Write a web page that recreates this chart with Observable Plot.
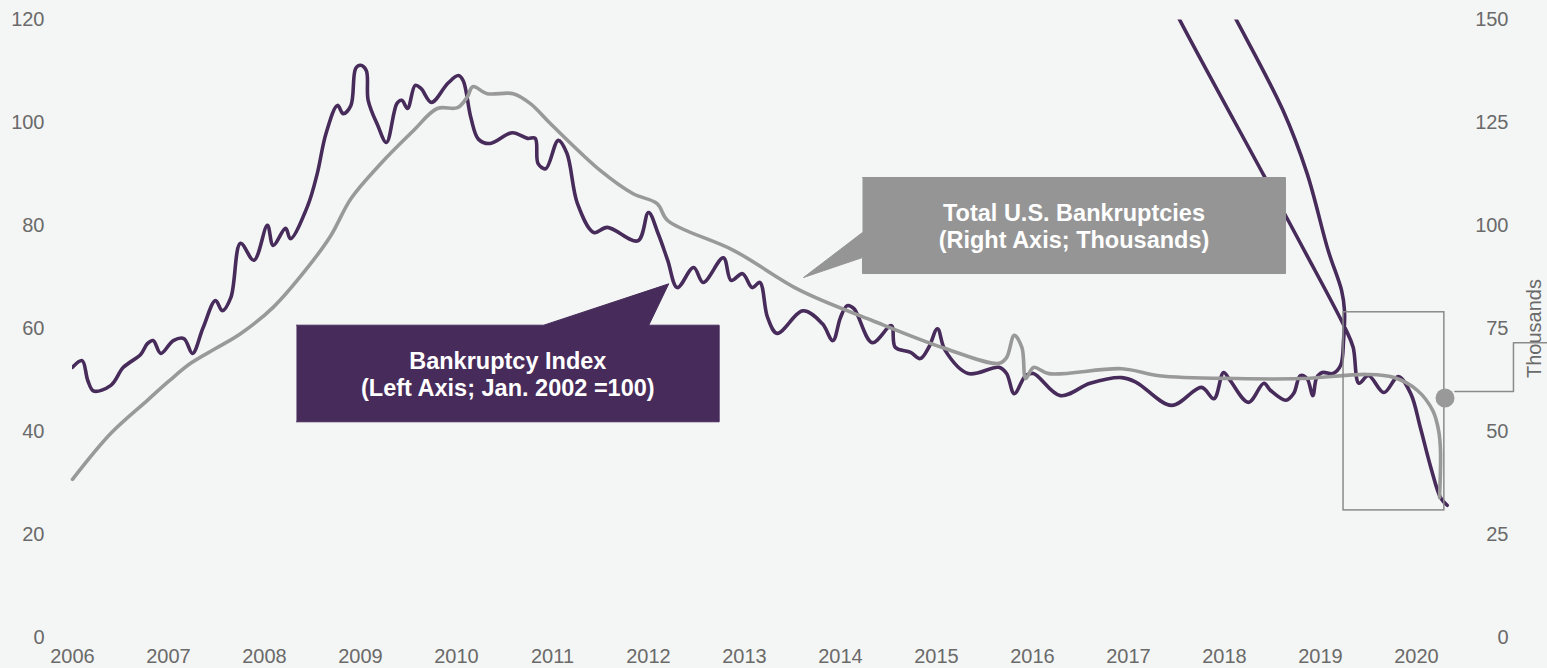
<!DOCTYPE html>
<html><head><meta charset="utf-8">
<script src="https://cdn.jsdelivr.net/npm/d3@7"></script>
<script src="https://cdn.jsdelivr.net/npm/@observablehq/plot@0.6"></script>
<style>
html,body{margin:0;padding:0;background:#f4f6f5;}
#chart{width:1547px;height:668px;overflow:hidden;}
</style></head><body><div id="chart"></div>
<script>
// ---- axis tick labels ----
const years = [2006,2007,2008,2009,2010,2011,2012,2013,2014,2015,2016,2017,2018,2019,2020];
const leftTicks = [0,20,40,60,80,100,120];
const rightTicks = [0,25,50,75,100,125,150];

// ---- Bankruptcy Index (left axis, Jan. 2002 = 100) ----
const indexDates = [2006.00,2006.10,2006.16,2006.22,2006.40,2006.53,2006.71,2006.78,2006.84,2006.92,
 2007.05,2007.16,2007.25,2007.36,2007.49,2007.56,2007.65,2007.75,2007.89,2008.03,
 2008.09,2008.22,2008.27,2008.45,2008.55,2008.64,2008.76,2008.82,2008.90,2008.95,
 2009.00,2009.06,2009.08,2009.18,2009.27,2009.38,2009.43,2009.49,2009.57,2009.63,
 2009.74,2009.91,2010.02,2010.07,2010.15,2010.23,2010.35,2010.58,2010.74,2010.82,
 2010.85,2010.93,2011.06,2011.15,2011.26,2011.43,2011.57,2011.89,2012.00,2012.10,
 2012.20,2012.30,2012.47,2012.57,2012.78,2012.86,2012.98,2013.08,2013.16,2013.24,
 2013.34,2013.61,2013.81,2013.92,2014.00,2014.07,2014.14,2014.33,2014.53,2014.57,
 2014.73,2014.83,2014.92,2015.01,2015.09,2015.33,2015.65,2015.73,2015.81,2015.93,
 2016.01,2016.29,2016.60,2016.93,2017.08,2017.45,2017.76,2017.89,2017.99,2018.06,
 2018.25,2018.41,2018.48,2018.64,2018.72,2018.79,2018.86,2018.92,2018.96,2019.02,
 2019.13,2019.21,
 2019.24,2019.25,2019.22,2019.08,2018.86,2018.61,2018.11,2017.85,
 2017.28,2017.52,2018.41,2018.82,2019.26,2019.34,
 2019.40,2019.50,2019.66,2019.81,2019.94,2020.04,2020.15,2020.25,2020.32];
const indexValues = [52.5,53.8,49.9,47.9,49.0,52.5,55.0,57.1,57.7,55.2,
 57.7,58.1,55.2,60.2,65.5,63.5,66.1,76.6,73.3,80.1,
 76.2,79.5,77.5,83.9,90.2,97.9,103.4,101.8,103.4,110.6,
 111.2,110.2,104.4,99.5,96.2,103.8,104.4,102.8,107.3,106.7,
 104.0,107.7,109.2,108.2,101.0,96.8,96.0,98.1,97.0,97.0,
 92.1,91.1,96.6,94.1,84.3,78.7,79.7,77.1,82.6,78.5,
 73.3,68.0,71.9,69.0,73.8,69.4,70.7,68.0,69.0,62.2,
 59.1,63.5,61.0,57.7,62.2,64.5,63.9,57.3,60.6,56.4,
 55.4,54.2,56.4,60.0,55.8,51.3,52.5,51.3,47.4,50.9,
 51.3,47.0,49.4,50.5,49.6,45.1,48.6,46.4,51.5,49.9,
 45.7,49.4,48.0,46.1,47.4,50.9,50.3,47.0,50.5,51.5,
 51.3,52.9,
 57.7,63.5,67.4,75.2,90.2,102.4,120.5,129.6,
 129.6,120.5,89.8,75.6,60.0,56.4,
 49.4,50.9,47.6,50.7,47.4,40.8,33.0,27.2,25.7];

// ---- Total U.S. Bankruptcies (right axis, thousands) ----
const totalDates = [2006.00,2006.40,2006.78,2007.00,2007.23,2007.49,2007.75,2008.09,2008.45,2008.69,
 2008.90,2009.21,2009.55,2009.80,2010.01,2010.11,2010.17,2010.32,2010.59,2010.77,
 2010.98,2011.50,2011.84,2012.09,2012.20,2012.89,2013.58,2014.33,2015.09,2015.65,
 2015.73,2015.81,2015.89,2015.93,2016.01,2016.17,2016.93,2017.32,2018.13,2018.79,
 2019.49,2019.76,2020.01,2020.17,2020.23,2020.25,2020.24];
const totalValues = [38.4,49.6,57.6,62.2,66.6,70.2,73.8,80.2,89.9,97.6,
 106.6,115.1,123.1,128.5,128.7,131.2,133.8,132.1,132.1,129.7,
 124.8,113.4,107.8,105.4,101.3,94.0,84.3,77.0,70.2,66.6,
 68.0,73.4,70.4,62.9,65.6,64.1,65.3,63.6,62.9,62.9,
 63.9,63.2,60.0,55.1,50.3,45.4,34.0];

// ---- annotations (in left-axis units) ----
const indexLabel = "Bankruptcy Index\n(Left Axis; Jan. 2002 =100)";
const totalLabel = "Total U.S. Bankruptcies\n(Right Axis; Thousands)";
const indexCallout = [[2008.333,60.69],[2010.909,60.69],[2012.211,68.73],[2012.003,60.69],[2012.736,60.69],[2012.736,41.92],[2008.333,41.92]];
const totalCallout = [[2014.229,89.39],[2018.635,89.39],[2018.635,70.73],[2014.229,70.73],[2014.229,73.84],[2013.615,69.96],[2014.229,78.70]];
const zoomBox = {x1: 2019.24, x2: 2020.29, y1: 24.7, y2: 63.2};
const markerDot = [[2020.297, 46.55]];
const connector = [[2020.40,47.8],[2021.01,47.8],[2021.01,57.3],[2021.36,57.3]];
const unitLabel = "Thousands";
const unitLabelY = 60.05;

const RATIO = 1.25; // right / left
const indexData = indexDates.map((t,i)=>({t, v:indexValues[i]}));
const totalData = totalDates.map((t,i)=>({t, v:totalValues[i]/RATIO}));
const toPts = a => a.map(([t,v])=>({t,v}));
const center = a => {
  const ts=a.map(d=>d[0]), vs=a.map(d=>d[1]);
  return {t:(d3.min(ts)+d3.max(ts))/2, v:(d3.min(vs)+d3.max(vs))/2};
};
const idxBox = indexCallout.filter(d=>d[1]!==68.73);
const totBox = totalCallout.filter(d=>d[0]!==2013.615);

const PURPLE = "#472b5a", GRAY = "#999999", BOXGRAY = "#959595", TXT = "#6a6a6a";

const chart = Plot.plot({
  width:1547, height:668,
  marginLeft:72, marginRight:35, marginTop:19.5, marginBottom:31,
  x:{domain:[2006,2021], label:null},
  y:{domain:[0,120], label:null},
  style:{background:"#f4f6f5", fontFamily:"'Liberation Sans', Arial, sans-serif", fontSize:"20px", color:TXT},
  marks:[
    Plot.axisX({ticks:years, tickSize:0, tickPadding:11, tickFormat:d=>String(d), label:null}),
    Plot.axisY({ticks:leftTicks, tickSize:0, tickPadding:28, tickFormat:d=>String(d), label:null}),
    Plot.text(rightTicks, {y:d=>d/RATIO, text:d=>String(d), frameAnchor:"right", textAnchor:"end", dx:-4, fill:TXT}),
    Plot.text([unitLabel], {y:[unitLabelY], text:d=>d, frameAnchor:"right", textAnchor:"middle", rotate:-90, dx:22, fill:TXT}),
    Plot.line(indexData, {x:"t", y:"v", stroke:PURPLE, strokeWidth:3.6, curve:"catmull-rom", clip:true}),
    Plot.line(totalData, {x:"t", y:"v", stroke:GRAY, strokeWidth:3.6, curve:"catmull-rom"}),
    Plot.rect([zoomBox], {x1:"x1", x2:"x2", y1:"y1", y2:"y2", fill:"none", stroke:"#8a8a8a", strokeWidth:1.5}),
    Plot.line(toPts(connector), {x:"t", y:"v", stroke:"#8a8a8a", strokeWidth:1.5}),
    Plot.dot(toPts(markerDot), {x:"t", y:"v", r:9.5, fill:GRAY, stroke:"none"}),
    Plot.line(toPts(indexCallout), {x:"t", y:"v", fill:PURPLE, stroke:PURPLE, strokeWidth:1}),
    Plot.line(toPts(totalCallout), {x:"t", y:"v", fill:BOXGRAY, stroke:BOXGRAY, strokeWidth:1}),
    Plot.text([center(idxBox)], {x:"t", y:"v", text:()=>indexLabel, fill:"white", fontWeight:"bold", fontSize:23.5, lineHeight:1.17}),
    Plot.text([center(totBox)], {x:"t", y:"v", text:()=>totalLabel, fill:"white", fontWeight:"bold", fontSize:23.5, lineHeight:1.17})
  ]
});
document.getElementById("chart").appendChild(chart);
</script></body></html>
